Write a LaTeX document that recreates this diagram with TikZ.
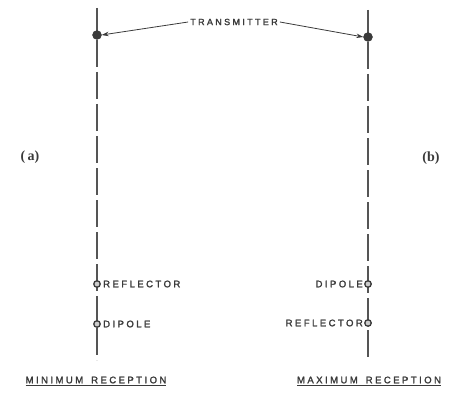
\documentclass[tikz,border=0pt]{standalone}
\usepackage{fontspec}
\setmainfont{Liberation Serif}
\newfontfamily\lblfont[LetterSpace=26, FakeBold=2]{Liberation Sans}
\usetikzlibrary{arrows.meta}
\definecolor{ink}{HTML}{3A3A3A}
\definecolor{linegray}{HTML}{555555}
\tikzset{
  axisline/.style={linegray, line width=1.4pt, dash pattern=on 27pt off 5pt},
  txdot/.style={circle, fill=ink, draw=ink, inner sep=0pt, minimum size=9pt},
  eldot/.style={circle, draw=ink, fill=gray!40, line width=1.3pt, inner sep=0pt, minimum size=6.5pt},
  lbl/.style={text=ink, font=\lblfont\fontsize{9.5}{11}\selectfont, inner sep=1pt},
  txlbl/.style={text=ink, font=\lblfont\fontsize{9}{10}\selectfont, inner sep=2pt},
  sublbl/.style={text=ink, font=\lblfont\fontsize{9.5}{11}\selectfont, inner sep=0pt},
  pointer/.style={ink, line width=0.8pt, -{Stealth[length=7pt,width=4.5pt]}},
  side/.style={text=ink, font=\bfseries\fontsize{14}{16}\selectfont}
}
\begin{document}
\begin{tikzpicture}[x=1pt,y=-1pt]
\useasboundingbox (0,0) rectangle (460,393);
% axis lines
\coordinate (la) at (97,8);
\coordinate (lb) at (97,360);
\coordinate (ra) at (368,10);
\coordinate (rb) at (368,360);
\draw[axisline] (la) -- (lb);
\draw[axisline] (ra) -- (rb);
% transmitters
\node[txdot] (tl) at (97,35) {};
\node[txdot] (tr) at (368,37) {};
\node[txlbl] (tx) at (234,22) {TRANSMITTER};
\draw[pointer] (tx.west) -- (tl.east);
\draw[pointer] (tx.east) -- (tr.west);
% left elements
\node[eldot] (lref) at (97,284) {};
\node[eldot] (ldip) at (97,324) {};
\node[lbl, anchor=west] (lreft) at (102,284) {REFLECTOR};
\node[lbl, anchor=west] (ldipt) at (102,324) {DIPOLE};
% right elements
\node[eldot] (rdip) at (368,284) {};
\node[eldot] (rref) at (368,323) {};
\node[lbl, anchor=east] (rdipt) at (364,284) {DIPOLE};
\node[lbl, anchor=east] (rreft) at (364,323) {REFLECTOR};
% side labels
\node[side] (a) at (30,157) {(\,a)};
\node[side] (b) at (431,158) {(b)};
% captions
\node[sublbl] (minr) at (96,381) {\underline{MINIMUM\hspace{8pt}RECEPTION}};
\node[sublbl] (maxr) at (369,381) {\underline{MAXIMUM\hspace{8pt}RECEPTION}};
\end{tikzpicture}
\end{document}
